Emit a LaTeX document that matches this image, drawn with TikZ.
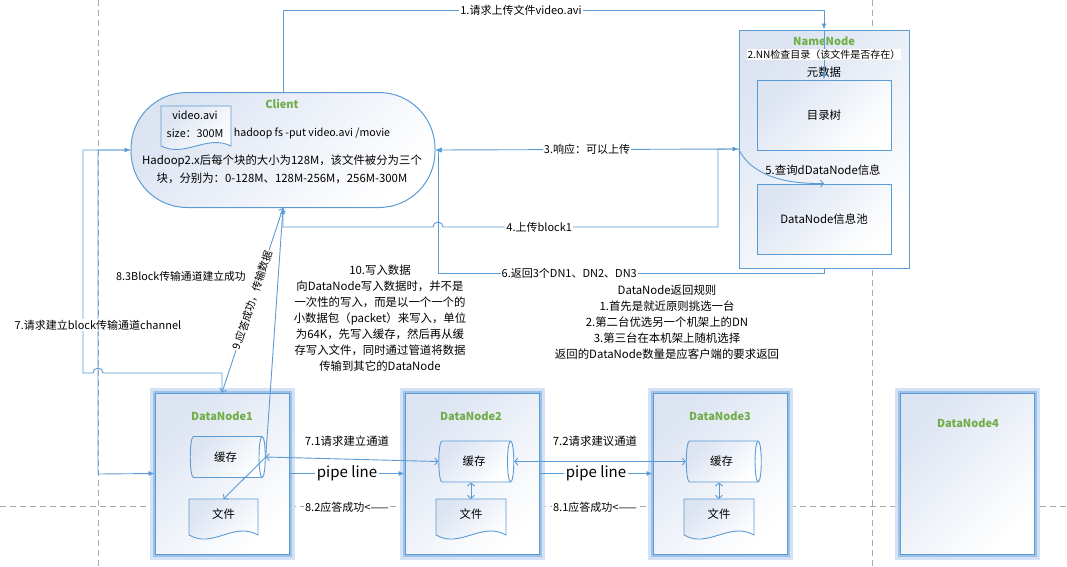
\documentclass[tikz,border=0pt]{standalone}
\usepackage{fontspec}
\setmainfont{Noto Sans CJK SC}
\usetikzlibrary{arrows.meta,shapes.geometric,positioning,calc}

\definecolor{lineblue}{RGB}{91,155,213}
\definecolor{glowblue}{RGB}{157,193,232}
\definecolor{fillblue}{RGB}{220,228,242}
\definecolor{titlegreen}{RGB}{112,173,71}
\definecolor{gridgray}{RGB}{170,170,170}

\begin{document}
\begin{tikzpicture}[x=1pt,y=-1pt,
    txt/.style={font=\fontsize{11.4}{16}\selectfont, inner sep=1pt, align=center},
    lbl/.style={font=\fontsize{11}{13}\selectfont, fill=white, inner sep=1pt},
    title/.style={font=\fontsize{11}{13}\selectfont\bfseries, text=titlegreen},
    pipe/.style={font=\fontsize{15}{17}\selectfont, fill=white, inner sep=2pt},
    conn/.style={draw=lineblue, line width=0.9pt},
    fa/.style={-{Latex[length=6pt,width=5pt]}},
    oa/.style={-{Straight Barb[length=3pt,width=7pt]}},
    oaa/.style={{Straight Barb[length=3pt,width=7pt]}-{Straight Barb[length=3pt,width=7pt]}},
    gridline/.style={draw=gridgray, line width=0.9pt, dash pattern=on 6pt off 4pt},
    shadebox/.style={top color=fillblue, bottom color=white, shading angle=45},
    box/.style={draw=lineblue, line width=1pt, shadebox, minimum width=#1},
    dnbox/.style={box=134pt, minimum height=161pt,
      preaction={draw=glowblue!45, line width=11pt},
      preaction={draw=glowblue, line width=5pt}},
    cache/.style={cylinder, draw=lineblue, line width=0.9pt, shadebox, aspect=0.5,
      minimum height=75pt, minimum width=41pt, txt},
    filetxt/.style={txt, minimum width=70pt, minimum height=30pt, anchor=north},
    docshape/.style={draw=lineblue, line width=0.9pt, shadebox}
  ]
\useasboundingbox (0,0) rectangle (1067,566);

% guide lines
\draw[gridline] (98,0) -- (98,566);
\draw[gridline] (872,0) -- (872,566);
\draw[gridline] (0,506) -- (1067,506);

% client
\node[draw=lineblue, line width=1pt, shadebox, rounded corners=56pt,
      minimum width=304pt, minimum height=115pt] (client) at (283,150) {};
\node[title] (clienttitle) at (282,104) {Client};
\draw[docshape, fill=white] (161,106) -- (231,106) -- (231,146)
  .. controls (207,134) and (185,158) .. (161,146) -- cycle;
\node[txt, font=\fontsize{10.8}{18}\selectfont] (video) at (195,124) {video.avi\\size：300M};
\node[txt, font=\fontsize{10.6}{14}\selectfont] (cmd) at (312,133) {hadoop fs -put video.avi /movie};
\node[txt, font=\fontsize{11.4}{18}\selectfont] (blocks) at (282,169)
  {Hadoop2.x后每个块的大小为128M，该文件被分为三个\\块，分别为：0-128M、128M-256M，256M-300M};

% namenode
\node[box=170pt, minimum height=238pt] (namenode) at (824,149) {};
\node[title] (nntitle) at (824,41) {NameNode};
\node[txt] (meta) at (824,72) {元数据};
\node[box=134pt, minimum height=70pt, txt] (dirtree) at (824,115) {目录树};
\node[txt] (query) at (823,170) {5.查询dDataNode信息};
\node[box=134pt, minimum height=70pt, txt] (dnpool) at (824,219) {DataNode信息池};

% datanodes
\node[dnbox] (dn1) at (222,473.5) {};
\node[dnbox] (dn2) at (472,473.5) {};
\node[dnbox] (dn3) at (720,473.5) {};
\node[dnbox] (dn4) at (967.5,473.5) {};
\node[title] (dn1title) at (222,416) {DataNode1};
\node[title] (dn2title) at (471,416) {DataNode2};
\node[title] (dn3title) at (720,416) {DataNode3};
\node[title] (dn4title) at (968,423) {DataNode4};

\node[cache] (cache1) at (225.5,457) {缓存};
\node[cache] (cache2) at (474,461.5) {缓存};
\node[cache] (cache3) at (721.5,461.5) {缓存};

\draw[docshape] (189,499) -- (258,499) -- (258,535)
  .. controls (234,521) and (213,549) .. (189,535) -- cycle;
\node[filetxt] (file1) at (223.5,499) {文件};
\draw[docshape] (436,499) -- (506,499) -- (506,535)
  .. controls (482,521) and (460,549) .. (436,535) -- cycle;
\node[filetxt] (file2) at (471,499) {文件};
\draw[docshape] (684,499) -- (754,499) -- (754,535)
  .. controls (730,521) and (708,549) .. (684,535) -- cycle;
\node[filetxt] (file3) at (719,499) {文件};

% client <-> namenode
\draw[conn, fa] (client.north) -- (283,10) -- node[lbl, pos=0.44] {1.请求上传文件video.avi} (824,10) -- (namenode.north);
\draw[conn, fa] (namenode.north) -- node[lbl, font=\fontsize{10}{12}\selectfont] {2.NN检查目录（该文件是否存在）} (dirtree.north);
\draw[conn, fa] (namenode.west) -- node[lbl] {3.响应：可以上传} (client.east);
\draw[conn, fa] (client.south) -- (283,227) -- (433,227) arc[start angle=180, end angle=0, radius=5pt]
  -- node[lbl, pos=0.35] {4.上传block1} (718,227) -- (718,149) -- (namenode.west);
\draw[conn, oa] (namenode.west) .. controls (752,176) and (785,184) .. (dnpool.north);
\draw[conn, fa] (namenode.south) -- (824,273) -- node[lbl, pos=0.66] {6.返回3个DN1、DN2、DN3} (438,273)
  -- (438,150) -- (client.east);

% client <-> datanode1
\draw[conn, fa] (dn1.north) -- (222,373) -- (103,373) arc[start angle=0, end angle=180, radius=5pt]
  -- (83,373) -- (83,150) -- (client.west);
\node[txt, font=\fontsize{10.8}{13}\selectfont] (ok83) at (181,276) {8.3Block传输通道建立成功};
\draw[conn, fa] (client.west) -- (98,150) -- node[lbl, pos=0.54] {7.请求建立block传输通道channel} (98,474) -- (dn1.west);
\draw[conn, oaa] (dn1.north) -- node[lbl, sloped, font=\fontsize{10.5}{13}\selectfont] {9.应答成功，传输数据} (client.south);
\draw[conn, fa] (cache1.east) -- (client.south);
\draw[conn, oa] (cache1.east) -- (file1.north);

% pipeline
\draw[conn, oaa] (cache1.east) -- (cache2.west);
\draw[conn, oaa] (cache2.east) -- (cache3.west);
\node[txt] (req71) at (347,441) {7.1请求建立通道};
\node[txt] (req72) at (595,441) {7.2请求建议通道};
\draw[conn, fa] (dn1.east) -- node[pipe] {pipe line} (dn2.west);
\draw[conn, fa] (dn2.east) -- node[pipe] {pipe line} (dn3.west);
\node[lbl] (ack82) at (347,507) {8.2应答成功<——};
\node[lbl] (ack81) at (595,507) {8.1应答成功<——};
\draw[conn, oaa] (file2.north) -- (file2.north |- cache2.south);
\draw[conn, oaa] (file3.north) -- (file3.north |- cache3.south);

% notes
\node[txt] (write10) at (380,318) {10.写入数据\\向DataNode写入数据时，并不是\\一次性的写入，而是以一个一个的\\小数据包（packet）来写入，单位\\为64K，先写入缓存，然后再从缓\\存写入文件，同时通过管道将数据\\传输到其它的DataNode};
\node[txt] (rules) at (667,322) {DataNode返回规则\\1.首先是就近原则挑选一台\\2.第二台优选另一个机架上的DN\\3.第三台在本机架上随机选择\\返回的DataNode数量是应客户端的要求返回};
\end{tikzpicture}
\end{document}
